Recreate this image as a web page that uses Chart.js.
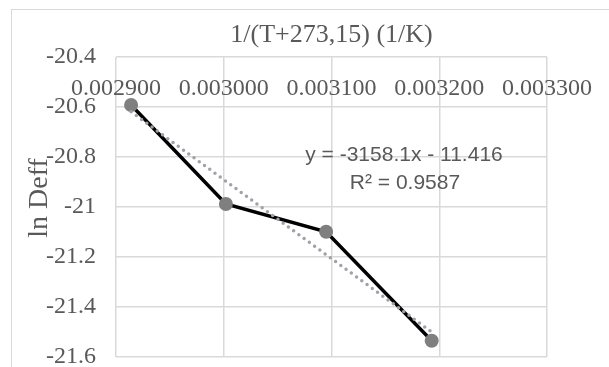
<!DOCTYPE html>
<html>
<head>
<meta charset="utf-8">
<script src="https://cdn.jsdelivr.net/npm/chart.js@4.4.1/dist/chart.umd.min.js"></script>
<style>
    html, body { margin: 0; padding: 0; background: #ffffff; }
    #wrap { width: 609px; height: 367px; }
</style>
</head>
<body>
<div id="wrap"><canvas id="arrheniusChart"></canvas></div>
<script>
// 1/(T+273,15) values and ln Deff
const invTemp = [0.002914, 0.003002, 0.003095, 0.003193];
const lnDeff = [-20.592, -20.988, -21.099, -21.535];

// linear trendline end points (over the data range)
const trendX = [0.002914, 0.003193];
const trendY = [-20.619, -21.500];

const xTicks = [0.0029, 0.0030, 0.0031, 0.0032, 0.0033];
const yTicks = [-21.6, -21.4, -21.2, -21.0, -20.8, -20.6, -20.4];

const xTitle = '1/(T+273,15) (1/K)';
const yTitle = 'ln Deff';
const equation = 'y = -3158.1x - 11.416';
const rSquared = 'R² = 0.9587';

const colors = {
    text: '#595959',
    grid: '#d9d9d9',
    line: '#000000',
    marker: '#7f7f7f',
    trend: '#9ea2a9',
    frame: '#d9d9d9',
};

const serif = "'Liberation Serif', 'DejaVu Serif', serif";
const sans = "'Liberation Sans', Arimo, sans-serif";

const decorations = {
    id: 'decorations',
    beforeDraw(chart) {
        const { ctx } = chart;
        ctx.save();
        ctx.fillStyle = '#ffffff';
        ctx.fillRect(0, 0, chart.width, chart.height);
        ctx.strokeStyle = colors.frame;
        ctx.lineWidth = 1;
        ctx.strokeRect(11.5, 9.5, 800, 600);
        ctx.restore();
    },
    afterDraw(chart) {
        const { ctx, chartArea } = chart;
        ctx.save();
        ctx.fillStyle = colors.text;
        ctx.textAlign = 'center';
        ctx.textBaseline = 'alphabetic';

        ctx.font = `26px ${serif}`;
        ctx.fillText(xTitle, (chartArea.left + chartArea.right) / 2, 42);

        ctx.font = `21px ${sans}`;
        ctx.fillText(equation, 404, 161);
        ctx.fillText(rSquared, 405, 189);

        ctx.translate(47, 198);
        ctx.rotate(-Math.PI / 2);
        ctx.font = `28px ${serif}`;
        ctx.fillText(yTitle, 0, 0);
        ctx.restore();
    },
};

new Chart(document.getElementById('arrheniusChart'), {
    type: 'scatter',
    data: {
        datasets: [
            {
                label: 'Linear trend',
                data: trendX.map((x, i) => ({ x, y: trendY[i] })),
                showLine: true,
                borderColor: colors.trend,
                borderWidth: 3.5,
                borderDash: [0, 6.5],
                borderCapStyle: 'round',
                pointRadius: 0,
                fill: false,
            },
            {
                label: 'ln Deff',
                data: invTemp.map((x, i) => ({ x, y: lnDeff[i] })),
                showLine: true,
                borderColor: colors.line,
                borderWidth: 3.5,
                backgroundColor: colors.marker,
                pointBackgroundColor: colors.marker,
                pointBorderColor: colors.marker,
                pointBorderWidth: 0,
                pointRadius: 7,
                tension: 0,
            },
        ],
    },
    options: {
        responsive: true,
        maintainAspectRatio: false,
        animation: false,
        layout: { padding: { top: 57, right: 62, bottom: 10, left: 0 } },
        plugins: {
            legend: { display: false },
            tooltip: { enabled: false },
        },
        scales: {
            x: {
                type: 'linear',
                position: { y: -20.4 },
                min: 0.0029,
                max: 0.0033,
                afterBuildTicks(scale) {
                    scale.ticks = xTicks.map((value) => ({ value }));
                },
                ticks: {
                    color: colors.text,
                    font: { family: serif, size: 24 },
                    padding: 17,
                    maxRotation: 0,
                    autoSkip: false,
                    callback: (v) => Number(v).toFixed(6),
                },
                grid: { color: colors.grid, lineWidth: 1.5, drawTicks: false },
                border: { display: false },
            },
            y: {
                type: 'linear',
                min: -21.6,
                max: -20.4,
                afterBuildTicks(scale) {
                    scale.ticks = yTicks.map((value) => ({ value }));
                },
                afterFit(scale) {
                    scale.width = 116;
                    scale.paddingTop = 0;
                    scale.paddingBottom = 0;
                },
                ticks: {
                    color: colors.text,
                    font: { family: serif, size: 24 },
                    padding: 20,
                    callback: (v) => String(Number(Number(v).toFixed(1))),
                },
                grid: { color: colors.grid, lineWidth: 1.5, drawTicks: false },
                border: { display: false },
            },
        },
    },
    plugins: [decorations],
});
</script>
</body>
</html>
